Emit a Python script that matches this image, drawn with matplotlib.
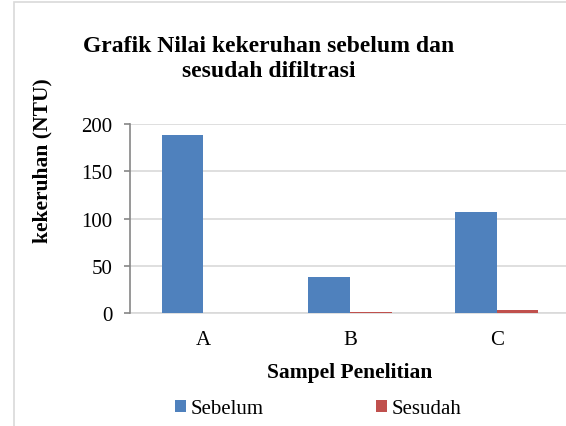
import matplotlib.pyplot as plt
import numpy as np
from matplotlib.patches import Rectangle

plt.rcParams['font.family'] = ['Liberation Serif', 'DejaVu Serif']

sampel = ["A", "B", "C"]
sebelum = [188, 38, 107]
sesudah = [0.8, 1.8, 3.0]

fig = plt.figure(figsize=(5.66, 4.27), dpi=100)

# chart border (grey frame, cut off at right and bottom)
fig.patches.append(Rectangle((14 / 566, -0.05), 1.2, 1 - 3 / 427 + 0.05,
                             transform=fig.transFigure, fill=False,
                             edgecolor="#D9D9D9", linewidth=1.2))

ax = fig.add_axes([130 / 566, 1 - 314.3 / 427, 440 / 566, (314.3 - 125) / 427])

x = np.arange(len(sampel))
w = 0.284
ax.bar(x - w / 2, sebelum, w, color="#4F81BD", label="Sebelum", zorder=3)
ax.bar(x + w / 2, sesudah, w, color="#C0504D", label="Sesudah", zorder=3)

ax.set_xlim(-0.5, 2.5)
ax.set_ylim(0, 200)
ax.set_yticks([0, 50, 100, 150, 200])
ax.set_xticks(x)
ax.set_xticklabels(sampel)
ax.yaxis.grid(True, color="#D9D9D9", linewidth=1.2)
ax.set_axisbelow(True)

for s in ["top", "right"]:
    ax.spines[s].set_visible(False)
ax.spines["left"].set_color("#868686")
ax.spines["left"].set_linewidth(1.2)
ax.spines["bottom"].set_color("#D9D9D9")
ax.spines["bottom"].set_linewidth(1.2)
ax.spines["bottom"].set_zorder(0.5)

ax.tick_params(axis="y", length=4.5, color="#868686", width=1.2, labelsize=15, pad=8)
ax.tick_params(axis="x", length=0, labelsize=15, pad=12)

fig.text(42 / 566, 1 - 161 / 427, "kekeruhan (NTU)", rotation=90, ha="center",
         va="center", fontsize=15.5, fontweight="bold")
fig.text(350 / 566, 1 - 373 / 427, "Sampel Penelitian", ha="center",
         va="center", fontsize=15.5, fontweight="bold")

fig.text(0.475, 1 - 59 / 427, "Grafik Nilai kekeruhan sebelum dan\nsesudah difiltrasi",
         ha="center", va="center", fontsize=17, fontweight="bold", linespacing=1.25)

leg = fig.legend(loc="center", bbox_to_anchor=(318 / 566, 1 - 410 / 427), ncol=2,
                 frameon=False, prop={"family": "Liberation Serif", "size": 15},
                 handlelength=0.55, handleheight=0.55, handletextpad=0.2,
                 columnspacing=5.4)
for t in leg.get_texts():
    t.set_fontfamily(["Liberation Serif", "DejaVu Serif"])

fig.savefig("out.png", dpi=100)
